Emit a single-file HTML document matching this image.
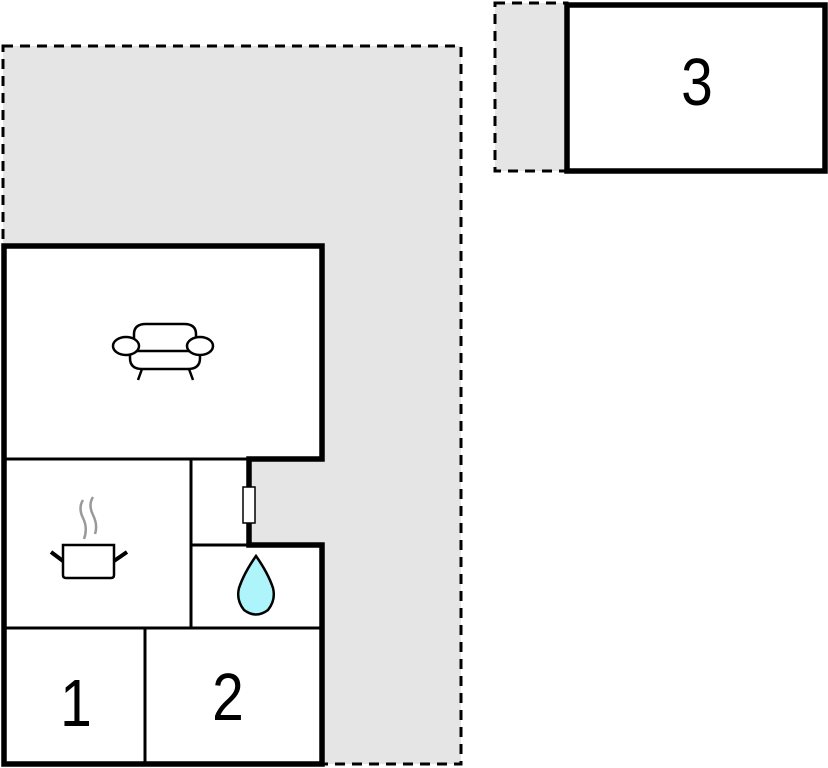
<!DOCTYPE html>
<html><head><meta charset="utf-8"><style>
html,body{margin:0;padding:0;background:#fff;width:828px;height:768px;overflow:hidden}
text{font-family:"Liberation Sans",sans-serif}
</style></head><body>
<svg width="828" height="768" viewBox="0 0 828 768" xmlns="http://www.w3.org/2000/svg">
<!-- terraces -->
<rect x="3" y="46" width="458" height="718" fill="#e5e5e5" stroke="#000" stroke-width="3" stroke-dasharray="10,7"/>
<rect x="495" y="3" width="72" height="168" fill="#e5e5e5" stroke="#000" stroke-width="3" stroke-dasharray="10,7"/>
<!-- building 3 -->
<rect x="567" y="5" width="258" height="166" fill="#fff" stroke="#000" stroke-width="5.5"/>
<text transform="translate(697,105) scale(0.85,1)" font-size="67" text-anchor="middle">3</text>
<!-- main building -->
<path d="M4 246 H322 V459 H249 V545 H322 V764 H4 Z" fill="#fff" stroke="#000" stroke-width="5.5"/>
<g stroke="#000" stroke-width="3" fill="none">
<line x1="4" y1="459" x2="249" y2="459"/>
<line x1="191" y1="459" x2="191" y2="628"/>
<line x1="191" y1="545" x2="249" y2="545"/>
<line x1="4" y1="628" x2="322" y2="628"/>
<line x1="145" y1="628" x2="145" y2="764"/>
</g>
<rect x="243" y="487" width="12" height="36" fill="#fff" stroke="#000" stroke-width="1.5"/>
<text transform="translate(76,726) scale(0.85,1)" font-size="67" text-anchor="middle">1</text>
<text transform="translate(228,720) scale(0.85,1)" font-size="67" text-anchor="middle">2</text>
<!-- sofa -->
<g stroke="#000" stroke-width="2.5" fill="#fff">
<path d="M134 351 V334 Q134 324 146 324 H184 Q196 324 196 334 V351"/>
<path d="M130 346 V358 Q130 369 142 369 H188 Q200 369 200 358 V346"/>
<line x1="137" y1="351" x2="193" y2="351"/>
<ellipse cx="126" cy="346" rx="13" ry="9"/>
<ellipse cx="200" cy="346" rx="13" ry="9"/>
<line x1="142" y1="369" x2="138" y2="380"/>
<line x1="189" y1="369" x2="193" y2="380"/>
</g>
<!-- pot -->
<g stroke="#000" stroke-width="2.5" fill="#fff">
<path d="M63 545 H114 V575 Q114 578 111 578 H66 Q63 578 63 575 Z"/>
<line x1="51" y1="552" x2="63" y2="561" stroke-width="4"/>
<line x1="114" y1="561" x2="127" y2="552" stroke-width="4"/>
</g>
<g stroke="#999" stroke-width="2.5" fill="none">
<path d="M83 500 Q78 508 83 518 Q88 528 84 539"/>
<path d="M93 497 Q88 505 93 515 Q98 525 95 534"/>
</g>
<!-- drop -->
<path d="M256 556 Q244 573 239 588 Q236 600 244 610 Q256 619 268 610 Q276 600 273 588 Q268 573 256 556 Z" fill="#aef4fb" stroke="#000" stroke-width="2.5"/>
</svg>
</body></html>
